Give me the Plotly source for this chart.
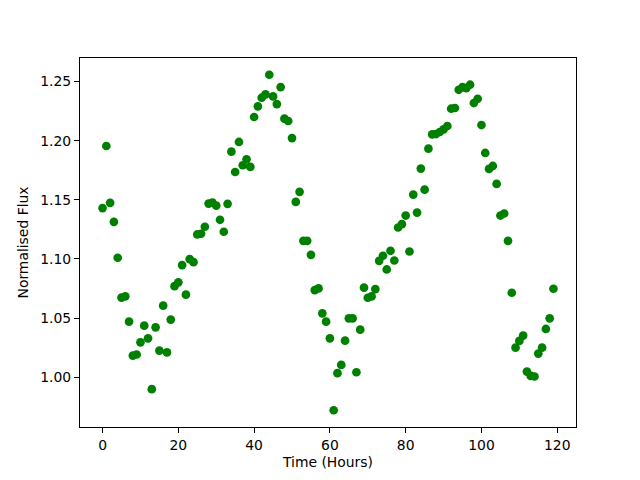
import plotly.graph_objects as go

hours = list(range(120))
flux = [
    1.143, 1.1955, 1.1474, 1.1314, 1.101, 1.0673, 1.0684, 1.047, 1.0183, 1.0192,
    1.0295, 1.0436, 1.0329, 0.9899, 1.0422, 1.0225, 1.0605, 1.021, 1.0487, 1.077,
    1.0802, 1.0948, 1.0698, 1.0998, 1.0973, 1.1207, 1.1213, 1.1272, 1.1468, 1.1477,
    1.1451, 1.1331, 1.123, 1.1466, 1.1907, 1.1735, 1.1989, 1.1792, 1.1842, 1.1778,
    1.22, 1.229, 1.2363, 1.2391, 1.2557, 1.2374, 1.2309, 1.2453, 1.2186, 1.2166,
    1.2022, 1.1482, 1.1567, 1.1153, 1.1153, 1.1035, 1.0737, 1.0751, 1.054, 1.047,
    1.0329, 0.9721, 1.0034, 1.0104, 1.0309, 1.0498, 1.0498, 1.0042, 1.0402, 1.0757,
    1.0672, 1.0683, 1.0745, 1.0984, 1.1027, 1.0911, 1.1069, 1.0987, 1.1266, 1.1294,
    1.1367, 1.1063, 1.1544, 1.1392, 1.1764, 1.1586, 1.1932, 1.2053, 1.2056, 1.2073,
    1.2095, 1.2124, 1.227, 1.2276, 1.243, 1.2453, 1.2444, 1.2473, 1.2318, 1.2354,
    1.2132, 1.1896, 1.1761, 1.1786, 1.1634, 1.1367, 1.1384, 1.1153, 1.0714, 1.025,
    1.0307, 1.0352, 1.0048, 1.0011, 1.0006, 1.02, 1.025, 1.0408, 1.0498, 1.0748,
]
x_ticks = [0, 20, 40, 60, 80, 100, 120]
y_ticks = [1.00, 1.05, 1.10, 1.15, 1.20, 1.25]
x_title = "Time (Hours)"
y_title = "Normalised Flux"

def padded(vals, frac=0.05):
    lo, hi = min(vals), max(vals)
    m = (hi - lo) * frac
    return [lo - m, hi + m]

FONT = dict(family="DejaVu Sans", size=13.9, color="black")

fig = go.Figure()
fig.add_trace(go.Scatter(
    x=hours, y=flux, mode="markers",
    marker=dict(color="#008000", size=8.7, line=dict(width=0)),
    showlegend=False,
))

axis_common = dict(
    showline=True, linecolor="black", linewidth=1, mirror=True,
    ticks="outside", ticklen=5, tickwidth=1, tickcolor="black",
    showgrid=False, zeroline=False,
    tickfont=FONT, title_font=FONT,
)

fig.update_layout(
    width=640, height=480,
    margin=dict(l=80, r=64, t=58, b=53),
    paper_bgcolor="white", plot_bgcolor="white",
    font=FONT,
    xaxis=dict(range=padded(hours), tickvals=x_ticks,
               ticktext=[str(v) for v in x_ticks],
               title=dict(text=x_title, standoff=5), **axis_common),
    yaxis=dict(range=padded(flux), tickvals=y_ticks,
               ticktext=[f"{v:.2f}" for v in y_ticks],
               title=dict(text=y_title, standoff=8), **axis_common),
)

fig.write_html(
    "out.html",
    config={"displayModeBar": False},
    post_script="document.body.style.margin='0';document.body.style.overflow='hidden';",
)
